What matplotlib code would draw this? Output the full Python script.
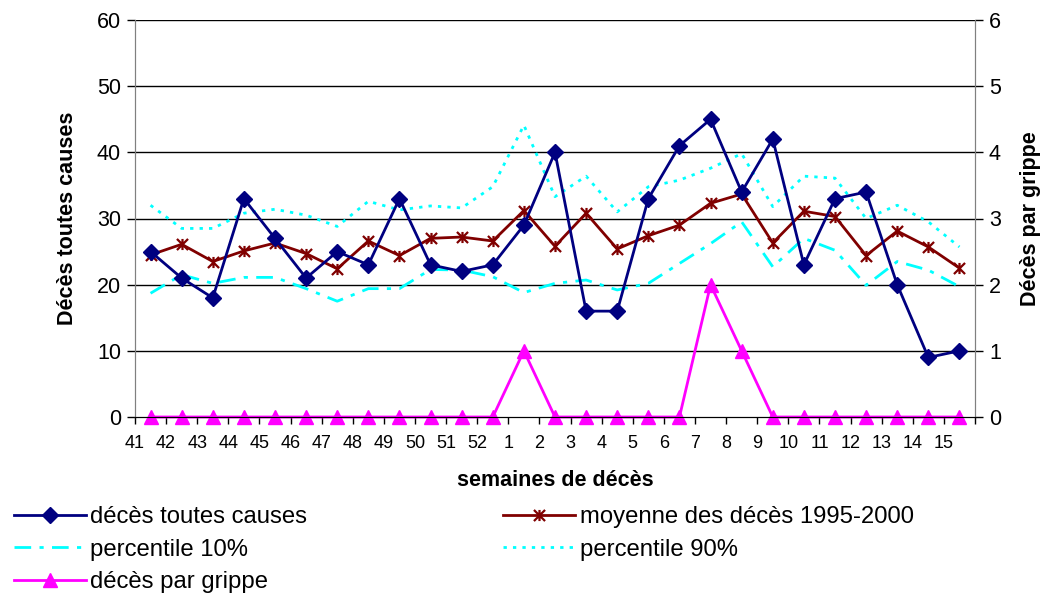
import matplotlib
matplotlib.use("Agg")
import matplotlib.pyplot as plt
from matplotlib.path import Path
import numpy as np

plt.rcParams['font.family'] = ['Liberation Sans', 'DejaVu Sans']

semaines = ['41', '42', '43', '44', '45', '46', '47', '48', '49', '50', '51', '52',
            '1', '2', '3', '4', '5', '6', '7', '8', '9', '10', '11', '12', '13', '14', '15']

deces_toutes_causes = [25, 21, 18, 33, 27, 21, 25, 23, 33, 23, 22, 23,
                       29, 40, 16, 16, 33, 41, 45, 34, 42, 23, 33, 34, 20, 9, 10]
moyenne_1995_2000 = [24.5, 26.1, 23.5, 25.1, 26.3, 24.7, 22.4, 26.6, 24.4, 27.0, 27.2, 26.6,
                     31.2, 25.8, 30.8, 25.4, 27.4, 29.0, 32.3, 33.7, 26.3, 31.1, 30.3, 24.4, 28.1, 25.7, 22.5]
percentile_10 = [18.7, 21.5, 20.2, 21.1, 21.1, 19.4, 17.5, 19.4, 19.4, 22.3, 22.2, 21.2,
                 18.8, 20.2, 20.7, 19.2, 20.2, 23.2, 26.2, 29.5, 22.7, 27.0, 25.2, 19.9, 23.5, 22.2, 19.7]
percentile_90 = [32.0, 28.5, 28.5, 30.8, 31.4, 30.5, 28.8, 32.6, 31.3, 31.9, 31.6, 34.8,
                 44.1, 33.3, 36.4, 31.0, 34.8, 35.8, 37.6, 39.8, 31.8, 36.4, 36.1, 30.0, 32.0, 29.5, 25.7]
deces_grippe = [0, 0, 0, 0, 0, 0, 0, 0, 0, 0, 0, 0,
                1, 0, 0, 0, 0, 0, 2, 1, 0, 0, 0, 0, 0, 0, 0]

# Excel-style star marker: an X with a vertical bar
star = Path([(-1, -1), (1, 1), (-1, 1), (1, -1), (0, -1), (0, 1)],
            [Path.MOVETO, Path.LINETO, Path.MOVETO, Path.LINETO, Path.MOVETO, Path.LINETO])

fig = plt.figure(figsize=(10.44, 5.99), dpi=100)
ax = fig.add_axes([135 / 1044, 1 - 417 / 599, 840 / 1044, 397 / 599])
ax2 = ax.twinx()

x = np.arange(len(semaines))

ax.set_ylim(0, 60)
ax.set_xlim(-0.5, len(semaines) - 0.5)
ax.set_yticks(range(0, 61, 10))
for v in range(10, 61, 10):
    ax.axhline(v, color='black', lw=1, zorder=0)

l1, = ax.plot(x, deces_toutes_causes, color='#000080', lw=2, marker='D', markersize=8,
              label='décès toutes causes', zorder=4)
l2, = ax.plot(x, moyenne_1995_2000, color='#800000', lw=2, marker=star, markersize=8,
              markeredgewidth=1.6, label='moyenne des décès 1995-2000', zorder=3)
l3, = ax.plot(x, percentile_10, color='#00FFFF', lw=2, dashes=(6, 3, 1.5, 3),
              label='percentile 10%', zorder=2)
l4, = ax.plot(x, percentile_90, color='#00FFFF', lw=2, dashes=(1.2, 2.2),
              label='percentile 90%', zorder=2)

ax2.set_ylim(0, 6)
ax2.set_yticks(range(0, 7))
l5, = ax2.plot(x, deces_grippe, color='#FF00FF', lw=2, marker='^', markersize=10,
               label='décès par grippe', clip_on=False)

ax.set_xticks(np.arange(-0.5, len(semaines)))
ax.set_xticklabels(semaines + [''])
ax.tick_params(axis='x', labelsize=13, length=5, width=1, pad=8)
ax.tick_params(axis='y', labelsize=15.5, length=6, width=1, pad=4)
ax2.tick_params(axis='y', labelsize=15.5, length=6, width=1, pad=4)

for a in (ax, ax2):
    a.spines['top'].set_visible(False)
    a.spines['left'].set_color('#808080')
    a.spines['right'].set_color('#808080')
    a.spines['bottom'].set_color('black')
ax.tick_params(axis='y', color='black')

ax.set_xlabel('semaines de décès', fontsize=15.5, fontweight='bold', labelpad=13)
ax.set_ylabel('Décès toutes causes', fontsize=15.5, fontweight='bold', labelpad=14)
ax2.set_ylabel('Décès par grippe', fontsize=15.5, fontweight='bold', labelpad=14)

fig.legend([l1, l3, l5, l2, l4],
           [h.get_label() for h in (l1, l3, l5, l2, l4)],
           ncol=2, loc='upper left', bbox_to_anchor=(14 / 1044, 1 - 506 / 599),
           frameon=False, fontsize=17.2, handlelength=3, handletextpad=0.2,
           labelspacing=0.44, columnspacing=8.2, borderpad=0, borderaxespad=0)

fig.savefig('out.png', dpi=100)
